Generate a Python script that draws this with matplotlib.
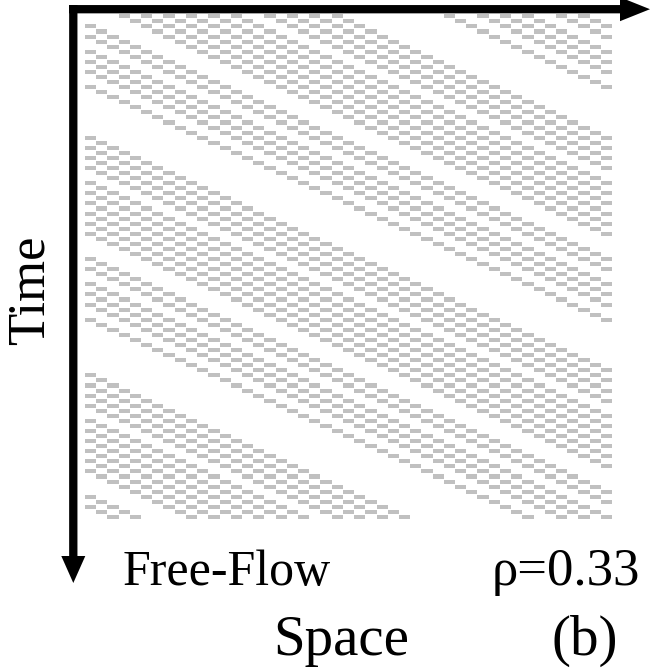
import matplotlib.pyplot as plt

# space-time diagram, free flow: every car moves one cell per time step,
# so a car is a diagonal line: column = start + row
n_cols = 47
n_rows = 100

# start column of each car trajectory (row 0)
# positive: car visible in the first row, negative: car enters later at the left
car_starts = [3, 5, 7, 9, 11, 13, 16, 18, 20, 22, 32, 35, 37, 39, 42, 44,
              -2, -4, -7, -9, -11, -14,
              -24, -26, -28, -30, -33, -35, -37, -39, -41, -43,
              -48, -50, -53, -55, -57, -60,
              -71, -73, -75, -77, -80, -82, -84, -86, -88, -90,
              -95, -97]

cols = []
rows = []
for s in car_starts:
    for t in range(n_rows):
        c = s + t
        if 0 <= c < n_cols:
            cols.append(c)
            rows.append(t)

W, H = 654, 669
fig = plt.figure(figsize=(W / 100, H / 100), dpi=100)

# grid axes
ax = fig.add_axes([85 / W, 1 - 520 / H, (612 - 85) / W, (520 - 14.3) / H])
ax.set_xlim(0, n_cols)
ax.set_ylim(n_rows, 0)
ax.axis('off')
ax.bar(cols, 0.8, bottom=rows, width=1.0, align='edge', color='#c0c0c0', linewidth=0)

# overlay in pixel units for arrows and labels
ov = fig.add_axes([0, 0, 1, 1])
ov.set_xlim(0, W)
ov.set_ylim(H, 0)
ov.axis('off')
ov.patch.set_alpha(0)

ov.arrow(69, 9.2, 581, 0, width=8.3, head_width=24, head_length=30,
         length_includes_head=True, color='black', linewidth=0)
ov.arrow(73.3, 5, 0, 578, width=8.3, head_width=24, head_length=27,
         length_includes_head=True, color='black', linewidth=0)

serif = 'Liberation Serif'
ov.text(31, 290, 'Time', rotation=90, ha='center', va='center', fontsize=38, family=serif)
ov.text(123, 585, 'Free-Flow', ha='left', va='baseline', fontsize=36, family=serif)
ov.text(640, 585, 'ρ=0.33', ha='right', va='baseline', fontsize=38, family=serif)
ov.text(341, 655, 'Space', ha='center', va='baseline', fontsize=41, family=serif)
ov.text(585, 655, '(b)', ha='center', va='baseline', fontsize=41, family=serif)

fig.savefig('out.png', dpi=100)
